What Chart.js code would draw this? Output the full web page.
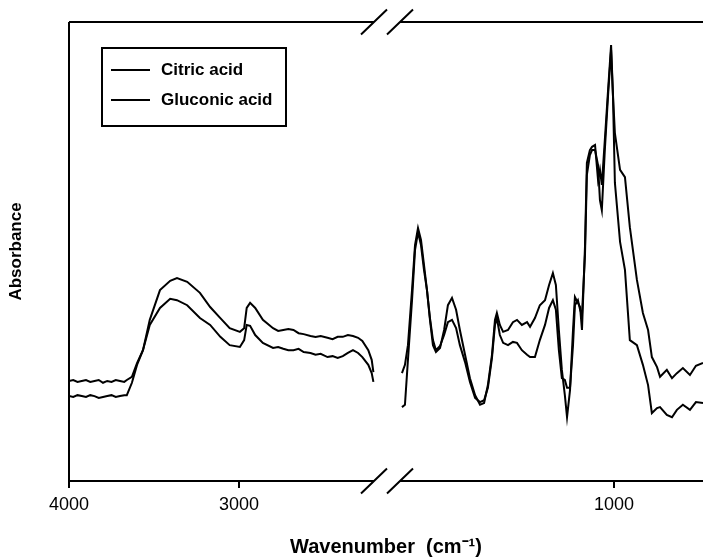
<!DOCTYPE html>
<html>
<head>
<meta charset="utf-8">
<script src="https://cdn.jsdelivr.net/npm/chart.js@4.4.1/dist/chart.umd.min.js"></script>
<style>
  html, body { margin: 0; padding: 0; background: #fff; }
  canvas { display: block; }
</style>
</head>
<body>
<canvas id="mycanvas" width="703" height="559"></canvas>
<script>
// O-H / C-H stretching region, 4000 - 2200 cm-1
var leftWavenumber = [4000, 3975, 3950, 3925, 3900, 3875, 3850, 3825, 3800, 3775,
	3750, 3725, 3700, 3675, 3660, 3630, 3600, 3565, 3525, 3465,
	3405, 3365, 3305, 3230, 3170, 3110, 3055, 2995, 2970, 2955,
	2935, 2905, 2860, 2800, 2770, 2740, 2710, 2680, 2650, 2620,
	2580, 2550, 2520, 2480, 2450, 2420, 2390, 2360, 2330, 2300,
	2275, 2240, 2220, 2210];
var citricLeft = [.218, .220, .216, .218, .220, .216, .218, .220, .214, .218,
	.216, .220, .218, .216, .220, .227, .257, .285, .351, .416,
	.436, .442, .434, .410, .379, .355, .333, .325, .333, .377,
	.388, .377, .351, .333, .327, .329, .331, .329, .322, .320,
	.316, .314, .316, .312, .309, .314, .314, .318, .316, .312,
	.305, .285, .264, .237];
var gluconicLeft = [.185, .183, .187, .185, .183, .187, .185, .181, .183, .185,
	.187, .183, .185, .187, .187, .214, .253, .285, .340, .377,
	.397, .394, .383, .355, .340, .314, .296, .292, .307, .340,
	.338, .318, .301, .290, .292, .288, .285, .285, .288, .281,
	.279, .275, .277, .270, .272, .268, .272, .279, .285, .279,
	.270, .253, .235, .216];

// fingerprint region, 1800 - 670 cm-1
var rightWavenumber = [1780, 1769, 1758, 1743, 1732, 1721, 1710, 1699, 1688, 1677,
	1666, 1655, 1640, 1625, 1611, 1596, 1581, 1567, 1548, 1530,
	1511, 1493, 1478, 1464, 1449, 1438, 1431, 1420, 1408, 1390,
	1372, 1357, 1339, 1320, 1309, 1291, 1273, 1254, 1239, 1225,
	1214, 1203, 1192, 1181, 1173, 1162, 1151, 1144, 1133, 1125,
	1118, 1107, 1100, 1089, 1081, 1070, 1059, 1052, 1045, 1034,
	1022, 1011, 1004, 997, 978, 960, 942, 916, 894, 875,
	861, 842, 831, 806, 787, 769, 747, 721, 699, 673];
var citricRight = [.235, .253, .296, .416, .514, .551, .525, .471, .416, .351,
	.296, .281, .290, .329, .383, .399, .373, .329, .275, .224,
	.187, .166, .170, .209, .275, .351, .366, .340, .325, .329,
	.346, .351, .340, .346, .336, .355, .383, .394, .427, .453,
	.427, .329, .242, .187, .139, .198, .329, .401, .388, .379,
	.329, .510, .693, .721, .728, .732, .656, .678, .645, .743,
	.852, .950, .841, .758, .678, .662, .553, .438, .366, .329,
	.270, .248, .227, .242, .224, .235, .246, .231, .251, .257];
var gluconicRight = [.161, .166, .264, .394, .503, .542, .514, .460, .416, .355,
	.307, .285, .294, .318, .346, .351, .333, .296, .259, .216,
	.181, .172, .176, .203, .268, .340, .355, .318, .301, .296,
	.303, .301, .285, .275, .270, .270, .307, .340, .377, .394,
	.373, .285, .224, .220, .203, .203, .296, .383, .394, .373,
	.362, .492, .667, .710, .721, .721, .688, .612, .590, .721,
	.841, .939, .837, .650, .521, .460, .307, .296, .253, .209,
	.148, .159, .161, .144, .139, .155, .166, .155, .172, .170];

var seriesNames = ['Citric acid', 'Gluconic acid'];
var leftTicks = [4000, 3000];
var rightTicks = [1000];

var FONT = '"Liberation Sans", Arial, Helvetica, sans-serif';
Chart.defaults.font.family = FONT;
Chart.defaults.color = '#000';

function toPoints(xs, ys) {
	var pts = [];
	for (var i in xs) {
		pts.push({x: xs[i], y: ys[i]});
	}
	return pts;
}

// box around the plot, with the // marks where the axis is broken
var axisFrame = {
	id: 'axisFrame',
	afterDatasetsDraw: function(chart) {
		var ctx = chart.ctx;
		var a = chart.chartArea;
		var bx = chart.scales.xl.right;
		var g = 13;
		ctx.save();
		ctx.strokeStyle = '#000';
		ctx.lineWidth = 2;
		ctx.beginPath();
		ctx.moveTo(a.left, a.top);
		ctx.lineTo(a.left, a.bottom);
		[a.top, a.bottom].forEach(function(yy) {
			ctx.moveTo(a.left, yy);
			ctx.lineTo(bx - g, yy);
			ctx.moveTo(bx + g, yy);
			ctx.lineTo(a.right, yy);
			[bx - g, bx + g].forEach(function(cx) {
				ctx.moveTo(cx - 13, yy + 12.5);
				ctx.lineTo(cx + 13, yy - 12.5);
			});
		});
		ctx.stroke();
		ctx.restore();
	}
};

// framed legend in the upper left of the plot
var legendBox = {
	id: 'legendBox',
	afterDraw: function(chart) {
		var ctx = chart.ctx;
		var a = chart.chartArea;
		var x = a.left + 33, y = a.top + 26;
		ctx.save();
		ctx.strokeStyle = '#000';
		ctx.fillStyle = '#000';
		ctx.lineWidth = 2;
		ctx.strokeRect(x, y, 184, 78);
		ctx.font = 'bold 17px ' + FONT;
		ctx.textBaseline = 'middle';
		seriesNames.forEach(function(name, i) {
			var ly = y + 22 + i * 30;
			ctx.beginPath();
			ctx.moveTo(x + 9, ly);
			ctx.lineTo(x + 48, ly);
			ctx.stroke();
			ctx.fillText(name, x + 59, ly);
		});
		ctx.restore();
	}
};

function xAxis(min, max, weight, tickValues) {
	return {
		type: 'linear',
		position: 'bottom',
		stack: 'wavenumber',
		stackWeight: weight,
		min: min,
		max: max,
		reverse: true,
		afterBuildTicks: function(scale) {
			scale.ticks = tickValues.map(function(v) { return {value: v}; });
		},
		afterFit: function(scale) { scale.height = 54; },
		grid: {display: true, drawOnChartArea: false, drawTicks: true, tickLength: 7, color: '#000', lineWidth: 2},
		border: {display: false},
		ticks: {
			color: '#000',
			font: {size: 18},
			padding: 6,
			maxRotation: 0,
			autoSkip: false,
			callback: function(v) { return String(v); }
		}
	};
}

var lineStyle = {borderColor: '#000', borderWidth: 2, pointRadius: 0, tension: 0, fill: false};

var chartdata = {
	datasets: [
		Object.assign({label: seriesNames[0], xAxisID: 'xl', data: toPoints(leftWavenumber, citricLeft)}, lineStyle),
		Object.assign({label: seriesNames[0], xAxisID: 'xr', data: toPoints(rightWavenumber, citricRight)}, lineStyle),
		Object.assign({label: seriesNames[1], xAxisID: 'xl', data: toPoints(leftWavenumber, gluconicLeft)}, lineStyle),
		Object.assign({label: seriesNames[1], xAxisID: 'xr', data: toPoints(rightWavenumber, gluconicRight)}, lineStyle)
	]
};

var ctx = document.getElementById('mycanvas');

var spectra = new Chart(ctx, {
	type: 'line',
	data: chartdata,
	options: {
		responsive: false,
		animation: false,
		layout: {padding: {top: 22, left: 0, right: 0, bottom: 0}},
		plugins: {
			legend: {display: false},
			tooltip: {enabled: false},
			title: {
				display: true,
				position: 'bottom',
				fullSize: false,
				text: 'Wavenumber  (cm\u207B\u00B9)',
				color: '#000',
				font: {size: 20, weight: 'bold'},
				padding: 0
			}
		},
		scales: {
			xl: xAxis(2130, 4000, 318, leftTicks),
			xr: xAxis(673, 1835, 316, rightTicks),
			y: {
				min: 0,
				max: 1,
				afterFit: function(scale) { scale.width = 69; },
				ticks: {display: false},
				grid: {display: false, drawTicks: false},
				border: {display: false},
				title: {
					display: true,
					text: 'Absorbance',
					color: '#000',
					font: {size: 17, weight: 'bold'},
					padding: {top: 6, bottom: 0}
				}
			}
		}
	},
	plugins: [axisFrame, legendBox]
});
</script>
</body>
</html>
